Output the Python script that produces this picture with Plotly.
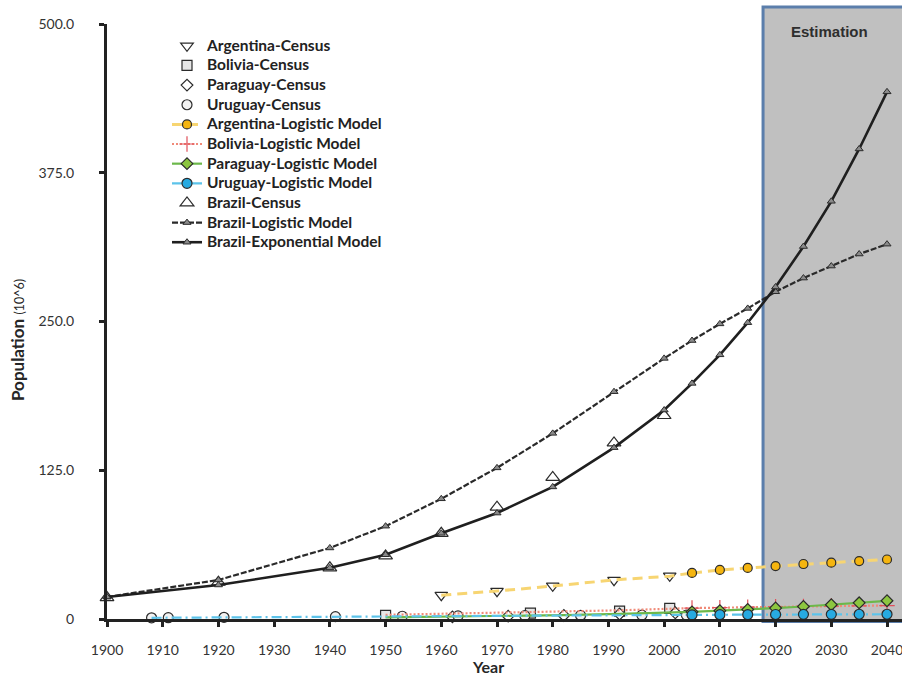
import plotly.graph_objects as go

# ---------------- data (millions) ----------------
arg_census_x = [1960, 1970, 1980, 1991, 2001]
arg_census_y = [20.0, 23.4, 27.9, 32.6, 36.3]

bol_census_x = [1950, 1976, 1992, 2001]
bol_census_y = [3.0, 5.0, 6.7, 9.0]

par_census_x = [1962, 1972, 1982, 1992, 2002]
par_census_y = [1.8, 2.4, 3.0, 4.2, 5.2]

uru_census_x = [1908, 1911, 1921, 1941, 1953, 1963, 1975, 1985, 1996, 2004]
uru_census_y = [1.0, 1.1, 1.4, 2.0, 2.3, 2.6, 2.8, 3.0, 3.2, 3.2]

proj_x = [2005, 2010, 2015, 2020, 2025, 2030, 2035, 2040]

arg_hist_x = [1960, 1970, 1980, 1991, 2001, 2005]
arg_hist_y = [20.0, 23.5, 27.7, 32.8, 36.0, 38.7]
arg_proj_y = [38.7, 41.2, 42.9, 44.5, 46.2, 47.3, 48.7, 50.0]

bol_hist_x = [1950, 1976, 1992, 2001, 2005]
bol_hist_y = [3.5, 5.5, 7.3, 8.6, 9.2]
bol_proj_y = [9.2, 9.6, 10.0, 10.3, 10.6, 10.9, 11.1, 11.3]

par_hist_x = [1950, 1962, 1972, 1982, 1992, 2002, 2005]
par_hist_y = [1.4, 1.9, 2.5, 3.3, 4.3, 5.3, 6.0]
par_proj_y = [6.0, 6.9, 8.0, 9.2, 10.5, 12.0, 13.6, 15.3]

uru_hist_x = [1908, 1920, 1940, 1960, 1980, 2000, 2005]
uru_hist_y = [1.0, 1.4, 2.0, 2.5, 2.9, 3.3, 3.5]
uru_proj_y = [3.5, 3.6, 3.7, 3.8, 3.9, 3.9, 4.0, 4.0]

bra_census_x = [1900, 1920, 1940, 1950, 1960, 1970, 1980, 1991, 2000]
bra_census_y = [18.0, 31.0, 43.0, 53.0, 72.0, 94.0, 119.0, 148.0, 171.0]

bra_model_x = [1900, 1920, 1940, 1950, 1960, 1970, 1980, 1991, 2000,
               2005, 2010, 2015, 2020, 2025, 2030, 2035, 2040]
bra_logistic_y = [18.5, 32.8, 59.7, 78.0, 101.0, 127.0, 156.0, 191.0, 219.0,
                  234.0, 248.0, 261.0, 275.0, 286.5, 296.6, 306.7, 315.0]
bra_exponential_y = [18.5, 28.6, 43.0, 54.0, 72.0, 89.0, 111.0, 144.0, 175.6,
                     198.0, 222.0, 249.0, 279.0, 313.0, 351.0, 395.0, 443.0]

x_ticks = list(range(1900, 2041, 10))
y_ticks = [0, 125, 250, 375, 500]
y_tick_text = ["0", "125.0", "250.0", "375.0", "500.0"]

estimation_start = 2017.75
x_max = 2042.69

# ---------------- figure ----------------
OUT = "#2b2b2b"
fig = go.Figure()


def mk(symbol, size, fill, lw=1.2):
    return dict(symbol=symbol, size=size, color=fill, line=dict(color=OUT, width=lw))


def lname(s):
    # legend entry text, drawn larger than the spacing font so rows stay tight
    return "<span style='font-size:15.5px'>" + s + "</span>"


# Census series (markers only)
fig.add_trace(go.Scatter(x=arg_census_x, y=arg_census_y, mode="markers", name=lname("Argentina-Census"),
                         marker=mk("triangle-down", 11, "white"), cliponaxis=False))
fig.add_trace(go.Scatter(x=bol_census_x, y=bol_census_y, mode="markers", name=lname("Bolivia-Census"),
                         marker=mk("square", 10, "#e6e6e6"), cliponaxis=False))
fig.add_trace(go.Scatter(x=par_census_x, y=par_census_y, mode="markers", name=lname("Paraguay-Census"),
                         marker=mk("diamond", 9, "white"), cliponaxis=False))
fig.add_trace(go.Scatter(x=uru_census_x, y=uru_census_y, mode="markers", name=lname("Uruguay-Census"),
                         marker=mk("circle", 10, "#f2f2f2"), cliponaxis=False))

# Logistic models (historical part: line only; projection: line + markers)
models = [
    ("Argentina-Logistic Model", arg_hist_x, arg_hist_y, arg_proj_y,
     dict(color="#f7d572", width=3, dash="10px,6px"), mk("circle", 9, "#f5b50f")),
    ("Bolivia-Logistic Model", bol_hist_x, bol_hist_y, bol_proj_y,
     dict(color="#f08a78", width=2.2, dash="2px,2px"),
     dict(symbol="cross-thin", size=11, color="#e0505a", line=dict(color="#e0505a", width=1.2))),
    ("Paraguay-Logistic Model", par_hist_x, par_hist_y, par_proj_y,
     dict(color="#6cb84a", width=2.2), mk("diamond", 9, "#8cc63f")),
    ("Uruguay-Logistic Model", uru_hist_x, uru_hist_y, uru_proj_y,
     dict(color="#5cc3ea", width=2.2, dash="10px,4px,2px,4px"), mk("circle", 10, "#27aae1")),
]
for name, hx, hy, py, line, marker in models:
    fig.add_trace(go.Scatter(x=hx, y=hy, mode="lines", line=line, showlegend=False,
                             hoverinfo="skip", cliponaxis=False))
    fig.add_trace(go.Scatter(x=proj_x, y=py, mode="lines+markers", name=lname(name),
                             line=line, marker=marker, cliponaxis=False))

# Brazil
fig.add_trace(go.Scatter(x=bra_census_x, y=bra_census_y, mode="markers", name=lname("Brazil-Census"),
                         marker=mk("triangle-up", 12, "white"), cliponaxis=False))
fig.add_trace(go.Scatter(x=bra_model_x, y=bra_logistic_y, mode="lines+markers",
                         name=lname("Brazil-Logistic Model"),
                         line=dict(color="#2a2a2a", width=2.2, dash="6px,2px"),
                         marker=mk("triangle-up", 7, "#8a8a8a", 1.0), cliponaxis=False))
fig.add_trace(go.Scatter(x=bra_model_x, y=bra_exponential_y, mode="lines+markers",
                         name=lname("Brazil-Exponential Model"),
                         line=dict(color="#1f1f1f", width=2.6),
                         marker=mk("triangle-up", 7, "#8a8a8a", 1.0), cliponaxis=False))

# Estimation region
L, R, T, B = 107, 902, 24, 619
px_w = R - L
px_h = B - T
x0_paper = (estimation_start - 1900) / (x_max - 1900)
fig.add_shape(type="rect", xref="paper", yref="paper",
              x0=x0_paper, x1=1.01, y0=-0.004, y1=(B - 7) / px_h,
              fillcolor="#c0c0c0", line=dict(color="#5b7eab", width=3), layer="below")
fig.add_annotation(text="Estimation", xref="paper", yref="paper",
                   x=(829 - L) / px_w, y=(B - 32) / px_h, showarrow=False,
                   xanchor="center", yanchor="middle",
                   font=dict(family="Liberation Sans", size=15, color="#2e2e2e", weight="bold"))

# Axis titles as annotations
fig.add_annotation(text="Year", xref="paper", yref="paper", x=(488 - L) / px_w,
                   y=-(666 - B) / px_h, showarrow=False, xanchor="center", yanchor="middle",
                   font=dict(family="Lato", size=16, color="#262626", weight="bold"))
fig.add_annotation(text="<b>Population</b> <span style='font-size:12.5px'>(10^6)</span>",
                   xref="paper", yref="paper", x=-(107 - 17) / px_w, y=(B - 340) / px_h,
                   showarrow=False, textangle=-90, xanchor="center", yanchor="middle",
                   font=dict(family="Lato", size=17, color="#262626"))

fig.update_layout(
    width=902, height=676,
    margin=dict(l=L, r=902 - R, t=T, b=676 - B, pad=0),
    paper_bgcolor="white", plot_bgcolor="rgba(0,0,0,0)",
    font=dict(family="Lato", color="#333333"),
    showlegend=True,
    legend=dict(x=(167 - L) / px_w, y=(B - 31) / px_h, xanchor="left", yanchor="top",
                bgcolor="rgba(0,0,0,0)", borderwidth=0, itemwidth=30,
                font=dict(family="Lato", size=12.8, color="#222222", weight="bold"),
                tracegroupgap=0),
    xaxis=dict(range=[1900, x_max], tickvals=x_ticks, showgrid=False, zeroline=False,
               showline=True, linecolor="#222222", linewidth=3,
               ticks="outside", ticklen=5, tickwidth=3, tickcolor="#222222",
               tickfont=dict(family="Lato", size=14, color="#333333"),
               ticklabelstandoff=11, ticklabeloverflow="allow"),
    yaxis=dict(range=[0, 500], tickvals=y_ticks, ticktext=y_tick_text, showgrid=False,
               zeroline=False, showline=True, linecolor="#222222", linewidth=3,
               ticks="outside", ticklen=5, tickwidth=3, tickcolor="#222222",
               tickfont=dict(family="Lato", size=14, color="#333333"),
               ticklabelstandoff=22),
)

fig.write_html("out.html", config={"displayModeBar": False},
               post_script="document.body.style.margin='0';document.body.style.overflow='hidden';")
